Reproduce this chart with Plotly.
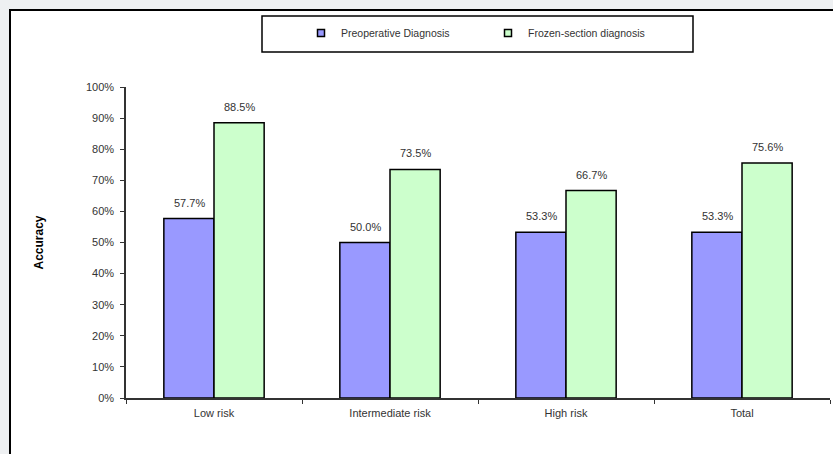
import plotly.graph_objects as go

categories = ["Low risk", "Intermediate risk", "High risk", "Total"]
preop = [0.577, 0.500, 0.533, 0.533]
frozen = [0.885, 0.735, 0.667, 0.756]
series_names = ["Preoperative Diagnosis", "Frozen-section diagnosis"]
colors = ["#9999ff", "#ccffcc"]
y_ticks = [i / 10 for i in range(11)]

W, H = 833, 454
L, R, T, B = 126, 3, 87, 56
pw, ph = W - L - R, H - T - B

def px(xp):
    return (xp - L) / pw

def py(yp):
    return (H - B - yp) / ph

FONT = "Liberation Sans, Arial, sans-serif"

fig = go.Figure()
for name, vals, col in zip(series_names, [preop, frozen], colors):
    fig.add_trace(go.Bar(
        x=categories, y=vals, name=name, showlegend=False,
        marker=dict(color=col, line=dict(color="#000000", width=1.5)),
    ))
# legend proxies (small square markers)
for name, col in zip(series_names, colors):
    fig.add_trace(go.Scatter(
        x=[None], y=[None], mode="markers", name=name,
        marker=dict(symbol="square", size=7, color=col,
                    line=dict(color="#000000", width=1.5)),
    ))

# value labels above bars
for vals, shift in [(preop, -25), (frozen, 25)]:
    for c, v in zip(categories, vals):
        fig.add_annotation(
            x=c, y=v, xref="x", yref="y", text=f"{v*100:.1f}%",
            showarrow=False, xshift=shift, yshift=16,
            font=dict(family=FONT, size=11, color="#333333"),
        )

# outer frame
fig.add_shape(type="rect", xref="paper", yref="paper",
              x0=px(10), x1=px(845), y0=py(10), y1=py(470),
              line=dict(color="#000000", width=2), fillcolor="#ffffff",
              layer="below")
# legend box
fig.add_shape(type="rect", xref="paper", yref="paper",
              x0=px(262), x1=px(693), y0=py(16), y1=py(52),
              line=dict(color="#000000", width=1.5), fillcolor="rgba(0,0,0,0)")

fig.update_layout(
    width=W, height=H,
    margin=dict(l=L, r=R, t=T, b=B, pad=0),
    paper_bgcolor="#eef0f2",
    plot_bgcolor="rgba(0,0,0,0)",
    barmode="group", bargap=0.43, bargroupgap=0,
    font=dict(family=FONT, size=11, color="#333333"),
    showlegend=True,
    legend=dict(orientation="h", x=px(301), xanchor="left",
                y=py(33), yanchor="middle", bgcolor="rgba(0,0,0,0)",
                borderwidth=0, entrywidth=142, entrywidthmode="pixels",
                itemwidth=30,
                font=dict(family=FONT, size=10.5, color="#333333")),
    xaxis=dict(showline=True, linecolor="#333333", linewidth=1.5,
               ticks="outside", ticklen=4, tickcolor="#333333",
               tickson="boundaries", showgrid=False, ticklabelstandoff=4,
               tickfont=dict(size=11)),
    yaxis=dict(range=[0, 1], tickvals=y_ticks, tickformat=".0%",
               showline=True, linecolor="#333333", linewidth=1.5,
               ticks="outside", ticklen=4, tickcolor="#333333",
               showgrid=False, zeroline=False, tickfont=dict(size=11),
               ticklabelstandoff=4,
               title=dict(text="<b>Accuracy</b>", standoff=40,
                          font=dict(size=12, color="#000000"))),
)

fig.write_html("out.html")
